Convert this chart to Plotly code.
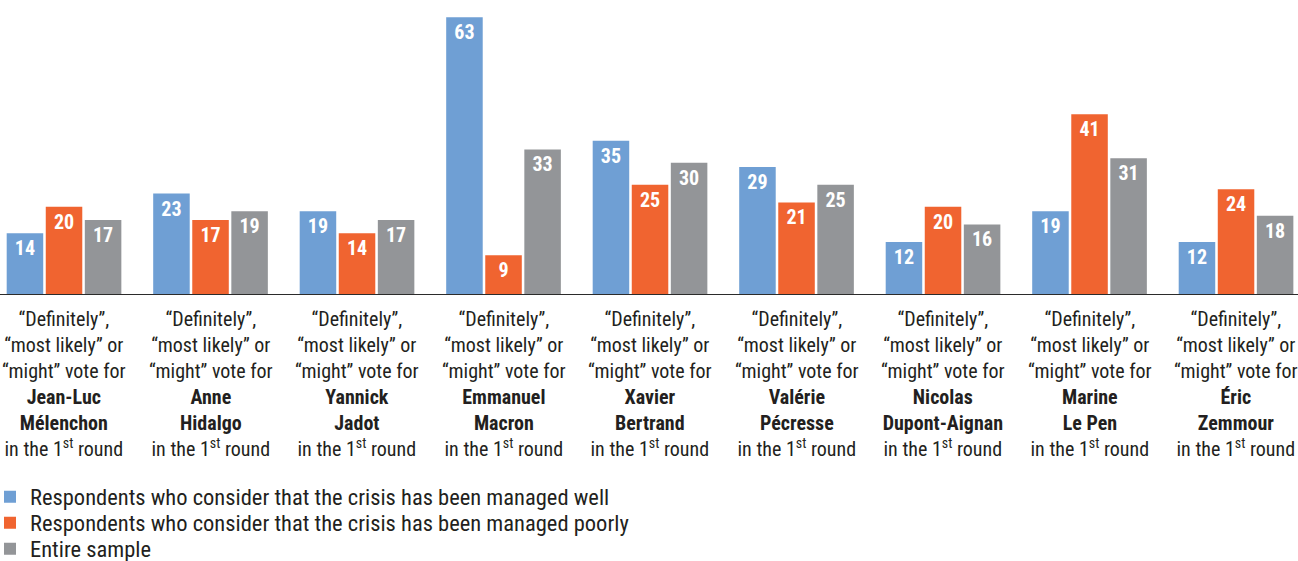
import plotly.graph_objects as go

# Candidates (first name, last name)
first_names = ["Jean-Luc", "Anne", "Yannick", "Emmanuel", "Xavier",
               "Valérie", "Nicolas", "Marine", "Éric"]
last_names = ["Mélenchon", "Hidalgo", "Jadot", "Macron", "Bertrand",
              "Pécresse", "Dupont-Aignan", "Le Pen", "Zemmour"]

# Percentages per group
managed_well = [14, 23, 19, 63, 35, 29, 12, 19, 12]
managed_poorly = [20, 17, 14, 9, 25, 21, 20, 41, 24]
entire_sample = [17, 19, 17, 33, 30, 25, 16, 31, 18]

series_names = [
    "Respondents who consider that the crisis has been managed well",
    "Respondents who consider that the crisis has been managed poorly",
    "Entire sample",
]
series_colors = ["#6F9FD4", "#F06430", "#939598"]
legend_ids = ["legend", "legend2", "legend3"]
legend_rows_px = [497, 523, 549]   # vertical centre of each legend row

FONT = "Roboto Condensed, DejaVu Sans Condensed, sans-serif"
TEXT_COLOR = "#231F20"
W, H = 1298, 561
PLOT_BOTTOM_PX = 295

cats = list(range(len(last_names)))

fig = go.Figure()
for name, vals, color, lg in zip(series_names,
                                 [managed_well, managed_poorly, entire_sample],
                                 series_colors, legend_ids):
    fig.add_trace(go.Bar(
        x=cats, y=vals, name=name, legend=lg,
        marker=dict(color=color, line=dict(width=0)),
        text=[f"<b>{v}</b>" for v in vals],
        textposition="inside",
        insidetextanchor="end",
        textangle=0,
        constraintext="none",
        textfont=dict(family=FONT, size=20, color="white"),
        cliponaxis=False,
    ))

# Category captions under each group
for i, (fn, ln) in enumerate(zip(first_names, last_names)):
    caption = ("“Definitely”,<br>“most likely” or<br>“might” vote for<br>"
               f"<b>{fn}</b><br><b>{ln}</b><br>in the 1<sup>st</sup> round")
    fig.add_annotation(
        x=i, y=0, xref="x", yref="y",
        text=caption, showarrow=False,
        xanchor="center", yanchor="top", yshift=-10,
        align="center",
        font=dict(family=FONT, size=20, color=TEXT_COLOR),
    )

# Baseline
fig.add_shape(type="line", xref="paper", yref="y", x0=0, x1=1,
              y0=0, y1=0, line=dict(color="#2B2B2B", width=2))

legend_common = dict(
    xanchor="left", yanchor="middle", orientation="v",
    font=dict(family=FONT, size=22.5, color=TEXT_COLOR),
    itemwidth=30, bgcolor="rgba(0,0,0,0)",
)
legend_layout = {}
for lg, py in zip(legend_ids, legend_rows_px):
    legend_layout[lg] = dict(legend_common, x=-10 / W, y=1 - py / H)

fig.update_layout(
    width=W, height=H,
    margin=dict(l=0, r=0, t=0, b=0, autoexpand=False),
    paper_bgcolor="white", plot_bgcolor="white",
    barmode="group", bargap=0.2, bargroupgap=0.065,
    showlegend=True,
    xaxis=dict(range=[-0.437, 8.423], showticklabels=False, showgrid=False,
               zeroline=False, showline=False, ticks=""),
    yaxis=dict(range=[0, 66.9], domain=[1 - PLOT_BOTTOM_PX / H, 1],
               visible=False, showgrid=False, zeroline=False),
    **legend_layout,
)

fig.write_html("out.html")
